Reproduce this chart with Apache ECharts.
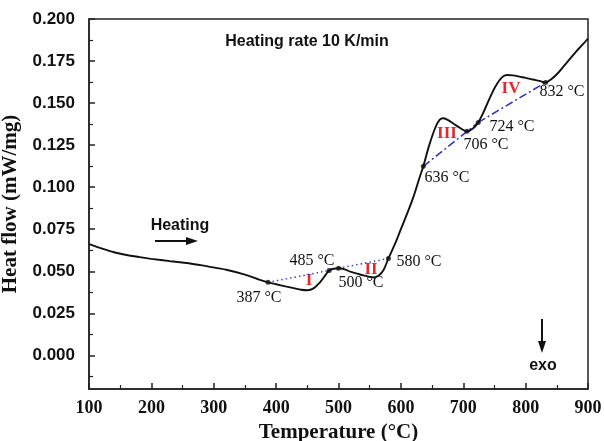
<!DOCTYPE html>
<html>
<head>
<meta charset="utf-8">
<script src="https://cdn.jsdelivr.net/npm/echarts@6/dist/echarts.min.js"></script>
<style>
html,body{margin:0;padding:0;background:#fff;}
#c{width:604px;height:441px;}
</style>
</head>
<body>
<div id="c"></div>
<script>
// ---- data ----
var temps = [100,120,140,160,180,200,230,260,290,320,350,370,387,400,415,430,440,450,460,470,480,485,492,500,510,520,530,540,550,557,565,572,580,590,600,610,620,630,636,645,655,662,668,675,685,695,706,715,724,733,743,752,762,770,780,790,800,812,822,832,842,852,862,872,882,892,900];
var heatFlow = [0.0662,0.0636,0.0613,0.0597,0.0585,0.0574,0.0560,0.0548,0.0529,0.0509,0.0480,0.0454,0.0434,0.0423,0.0410,0.0398,0.0390,0.0387,0.0398,0.0433,0.0482,0.0505,0.0515,0.0518,0.0511,0.0496,0.0486,0.0476,0.0467,0.0464,0.0477,0.0506,0.0576,0.0658,0.0750,0.0843,0.0941,0.1058,0.1124,0.1244,0.1352,0.1400,0.1410,0.1400,0.1376,0.1352,0.1332,0.1347,0.1385,0.1450,0.1534,0.1601,0.1653,0.1667,0.1665,0.1657,0.1650,0.1640,0.1632,0.1623,0.1645,0.1679,0.1723,0.1767,0.1811,0.1850,0.1884];
var markerTemps = [387,485,500,580,636,706,724,832];
var markerValues = [0.0434,0.0505,0.0518,0.0576,0.1124,0.1332,0.1385,0.1623];
var dottedBaselines = [[0,1],[2,3]];      // pairs of marker indices
var dashDotBaselines = [[4,6],[6,7]];
var markerLabels = ['387 °C','485 °C','500 °C','580 °C','636 °C','706 °C','724 °C','832 °C'];
var regionLabels = ['I','II','III','IV'];
var xTicks = [100,200,300,400,500,600,700,800,900];
var yTicks = [0.000,0.025,0.050,0.075,0.100,0.125,0.150,0.175,0.200];

// ---- build ----
var curve = temps.map(function(t,i){return [t,heatFlow[i]];});
var markers = markerTemps.map(function(t,i){return [t,markerValues[i]];});
function seg(p){return [markers[p[0]],markers[p[1]]];}
var yStep = yTicks[1]-yTicks[0];
var yMinor = [yTicks[0]-yStep/2].concat(yTicks.slice(0,-1).map(function(v){return v+yStep/2;}));

var chart = echarts.init(document.getElementById('c'), null, {renderer:'canvas'});

var labelPos = [[259,298],[312,261],[361,283],[419,262],[447,178],[486,145],[512,127],[562,92]];
var regionPos = [[309,281],[371,270],[447,134],[511,89]];

var graphics = [];
markerLabels.forEach(function(s,i){
  graphics.push({type:'text',x:labelPos[i][0],y:labelPos[i][1],style:{text:s,fill:'#111',font:'16px "Liberation Serif", "Times New Roman", serif',textAlign:'center',textVerticalAlign:'middle'}});
});
regionLabels.forEach(function(s,i){
  graphics.push({type:'text',x:regionPos[i][0],y:regionPos[i][1],style:{text:s,fill:'#e8262b',font:'bold 17px "Liberation Serif", "Times New Roman", serif',textAlign:'center',textVerticalAlign:'middle'}});
});
graphics.push({type:'text',x:307,y:42,style:{text:'Heating rate 10 K/min',fill:'#111',font:'bold 16px "Liberation Sans", Arial, sans-serif',textAlign:'center',textVerticalAlign:'middle'}});
graphics.push({type:'text',x:180,y:226,style:{text:'Heating',fill:'#111',font:'bold 16px "Liberation Sans", Arial, sans-serif',textAlign:'center',textVerticalAlign:'middle'}});
graphics.push({type:'line',shape:{x1:155,y1:241,x2:188,y2:241},style:{stroke:'#111',lineWidth:2}});
graphics.push({type:'polygon',shape:{points:[[186,237],[198,241],[186,245]]},style:{fill:'#111'}});
graphics.push({type:'text',x:543,y:366,style:{text:'exo',fill:'#111',font:'bold 16px "Liberation Sans", Arial, sans-serif',textAlign:'center',textVerticalAlign:'middle'}});
graphics.push({type:'line',shape:{x1:542,y1:319,x2:542,y2:343},style:{stroke:'#111',lineWidth:2}});
graphics.push({type:'polygon',shape:{points:[[538,341],[542,353],[546,341]]},style:{fill:'#111'}});

var series = [{
  type:'line', data:curve, smooth:0.35, symbol:'none',
  lineStyle:{color:'#111',width:1.9}, z:3
},{
  type:'scatter', data:markers, symbolSize:5, itemStyle:{color:'#111'}, z:4
}];
dottedBaselines.forEach(function(p){
  series.push({type:'line',data:seg(p),symbol:'none',lineStyle:{color:'#4040d0',width:1.5,type:[1.5,3]},z:2});
});
dashDotBaselines.forEach(function(p){
  series.push({type:'line',data:seg(p),symbol:'none',lineStyle:{color:'#3030c8',width:1.5,type:[8,3,2,3]},z:2});
});

var yMin = -0.02, yMax = 0.2;

chart.setOption({
  animation:false,
  backgroundColor:'#fff',
  grid:{left:89,right:16,top:19,bottom:52,containLabel:false,outerBoundsMode:'none',
        show:true,borderColor:'#222',borderWidth:1.5,backgroundColor:'transparent'},
  xAxis:{
    type:'value',min:xTicks[0],max:xTicks[xTicks.length-1],interval:100,
    name:'Temperature (°C)',nameLocation:'middle',nameGap:29,
    nameTextStyle:{color:'#111',fontFamily:'"Liberation Serif", serif',fontWeight:'bold',fontSize:21},
    axisLine:{show:true,onZero:false,lineStyle:{color:'#222',width:1.5}},
    axisTick:{show:true,inside:true,length:6,lineStyle:{color:'#222',width:1.5}},
    minorTick:{show:true,splitNumber:2,length:4,lineStyle:{color:'#222',width:1.2}},
    splitLine:{show:false},
    axisLabel:{color:'#111',fontFamily:'"Liberation Serif", serif',fontWeight:'bold',fontSize:18,margin:10,
      formatter:function(v){return xTicks.indexOf(v)>=0?String(v):'';}}
  },
  yAxis:[{
    type:'value',min:yMin,max:yMax,
    name:'Heat flow (mW/mg)',nameLocation:'middle',nameGap:62,nameRotate:90,
    nameTextStyle:{color:'#111',fontFamily:'"Liberation Serif", serif',fontWeight:'bold',fontSize:21},
    axisLine:{show:true,onZero:false,lineStyle:{color:'#222',width:1.5}},
    axisTick:{show:true,inside:true,length:6,customValues:yTicks,lineStyle:{color:'#222',width:1.5}},
    splitLine:{show:false},
    axisLabel:{color:'#111',fontFamily:'"Liberation Sans", Arial, sans-serif',fontWeight:'bold',fontSize:17,margin:14,
      customValues:yTicks,
      formatter:function(v){return Number(v).toFixed(3);}}
  },{
    type:'value',min:yMin,max:yMax,position:'left',offset:0,
    axisLine:{show:false},
    axisTick:{show:true,inside:true,length:4,customValues:yMinor,lineStyle:{color:'#222',width:1.2}},
    axisLabel:{show:false},
    splitLine:{show:false}
  }],
  series:series,
  graphic:graphics
});
</script>
</body>
</html>
